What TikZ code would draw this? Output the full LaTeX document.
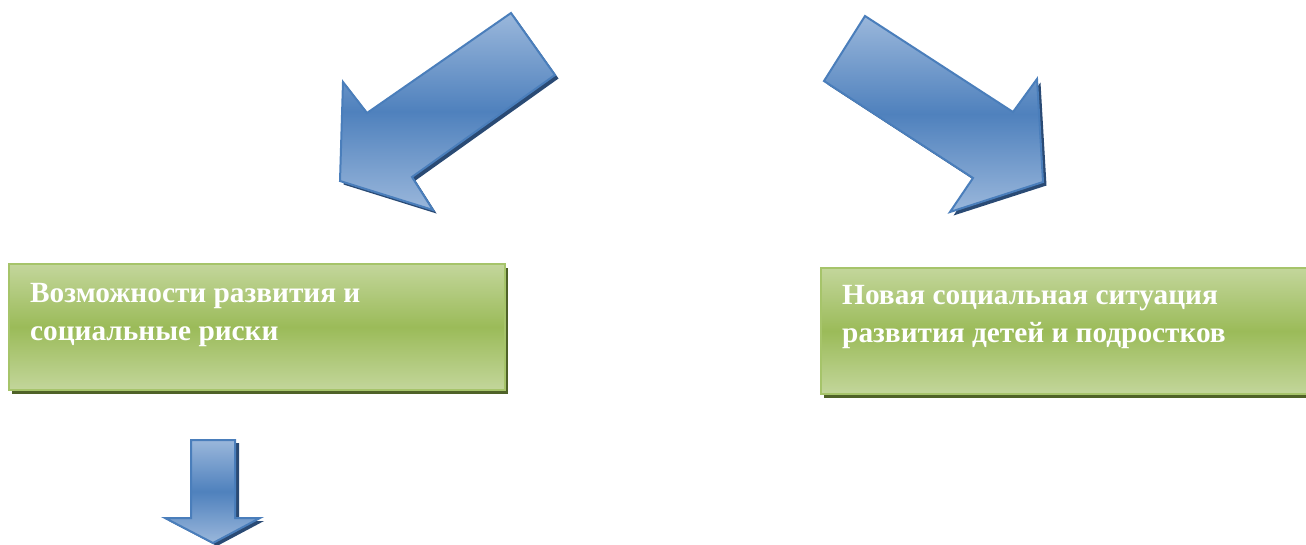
\documentclass[tikz,border=0pt]{standalone}
\usepackage{fontspec}
\setmainfont{Liberation Serif}
\usetikzlibrary{calc}
\definecolor{arrlight}{HTML}{9AB7DB}
\definecolor{arrdark}{HTML}{4F81BD}
\definecolor{arrline}{HTML}{4A7EBB}
\definecolor{arrshadow}{HTML}{2A4A74}
\definecolor{grlight}{HTML}{C3D69B}
\definecolor{grdark}{HTML}{9BBB59}
\definecolor{grline}{HTML}{A6C46A}
\definecolor{grshadow}{HTML}{4F6228}
\tikzset{
  blockarrow/.style={top color=arrlight, bottom color=arrlight, middle color=arrdark, draw=arrline, line width=2pt, line join=miter},
  arrowshadow/.style={fill=arrshadow},
  greenbox/.style={rectangle, anchor=north west, inner sep=0pt, top color=grlight, bottom color=grlight, middle color=grdark, draw=grline, line width=2.2pt},
  boxshadow/.style={rectangle, anchor=north west, inner sep=0pt, fill=grshadow},
  boxtext/.style={anchor=base west, align=left, inner sep=0pt, text=white, font=\fontsize{29.3}{37.5}\selectfont\bfseries}
}
\begin{document}
\begin{tikzpicture}[x=1pt,y=-1pt]
\useasboundingbox (0,0) rectangle (1306,544);
\begin{scope}
\clip (0,0) rectangle (1306,544);
% left arrow
\fill[arrowshadow, shift={(3.5,3.5)}] (511,13) -- (555,75) -- (412,177) -- (433,210) -- (340,181) -- (343,82) -- (367,113) -- cycle;
\shadedraw[blockarrow] (511,13) -- (555,75) -- (412,177) -- (433,210) -- (340,181) -- (343,82) -- (367,113) -- cycle;
% right arrow
\fill[arrowshadow, shift={(3.5,3.5)}] (865,16) -- (824,81) -- (973,178) -- (950,212) -- (1043,182) -- (1037,79) -- (1013,112) -- cycle;
\shadedraw[blockarrow] (865,16) -- (824,81) -- (973,178) -- (950,212) -- (1043,182) -- (1037,79) -- (1013,112) -- cycle;
% down arrow
\fill[arrowshadow, shift={(4,3)}] (191,440) -- (235,440) -- (235,518) -- (260,518) -- (213,543) -- (165,518) -- (191,518) -- cycle;
\shadedraw[blockarrow] (191,440) -- (235,440) -- (235,518) -- (260,518) -- (213,543) -- (165,518) -- (191,518) -- cycle;
% boxes
\node[boxshadow, minimum width=496pt, minimum height=126pt] (s1) at (12,268) {};
\node[greenbox, minimum width=496pt, minimum height=126pt] (b1) at (8,263) {};
\node[boxtext] (t1) at (30,340) {Возможности развития и\\социальные риски};
\node[boxshadow, minimum width=500pt, minimum height=126pt] (s2) at (824,272) {};
\node[greenbox, minimum width=500pt, minimum height=126pt] (b2) at (820,267) {};
\node[boxtext] (t2) at (842,342) {Новая социальная ситуация\\развития детей и подростков};
\end{scope}
\end{tikzpicture}
\end{document}
